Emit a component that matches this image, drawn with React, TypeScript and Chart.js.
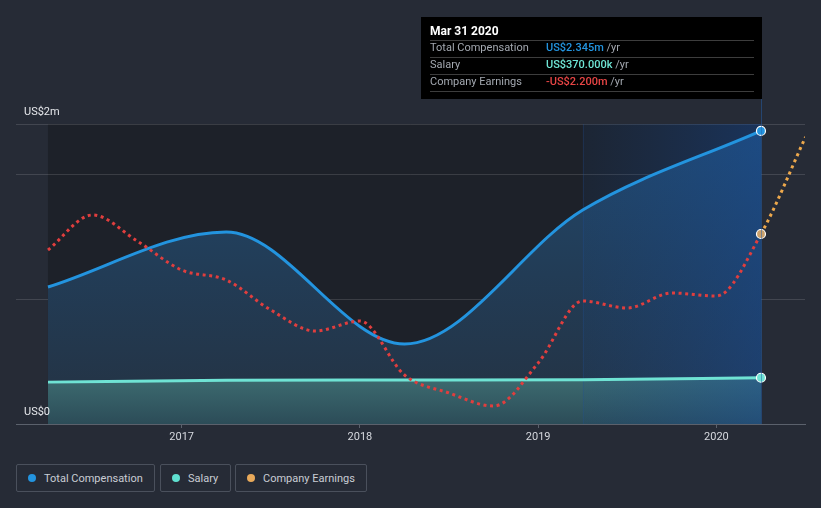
import React, { useEffect, useRef } from 'react';
import { Chart, registerables } from 'chart.js';

Chart.register(...registerables);

// ---- data ----
const compYears = [2016.25, 2017.25, 2018.25, 2019.25, 2020.25];
const totalComp = [1.096, 1.536, 0.64, 1.712, 2.345]; // US$ m
const salary = [0.335, 0.35, 0.352, 0.355, 0.37]; // US$ m
const earnYears = [
  2016.25, 2016.5, 2016.75, 2017.0, 2017.25, 2017.5, 2017.75, 2018.0, 2018.25,
  2018.5, 2018.75, 2019.0, 2019.25, 2019.5, 2019.75, 2020.0, 2020.25, 2020.5,
];
const earnings = [
  -2.52, -1.82, -2.34, -2.92, -3.12, -3.72, -4.14, -3.94, -5.02,
  -5.38, -5.64, -4.78, -3.54, -3.68, -3.38, -3.44, -2.2, -0.26,
]; // US$ m
const forecastFrom = 2020.25;
const xTickYears = [2017, 2018, 2019, 2020];
const yGridValues = [0, 1, 2, 2.4];
const yLabels = [
  { value: 2.4, text: 'US$2m' },
  { value: 0, text: 'US$0' },
];
const tooltipTitle = 'Mar 31 2020';
const seriesNames = ['Total Compensation', 'Salary', 'Company Earnings'];
const seriesColors = ['#2394df', '#5fe0d0', '#e8a95a'];

const FONT = 'Roboto, "Noto Sans", sans-serif';

function fmtMoney(v: number): string {
  const neg = v < 0;
  const a = Math.abs(v);
  const s = a >= 1 ? `US$${a.toFixed(3)}m` : `US$${(a * 1000).toFixed(3)}k`;
  return (neg ? '-' : '') + s;
}

const overlayPlugin = {
  id: 'overlay',
  beforeDraw(chart: any) {
    const { ctx, chartArea: a, scales } = chart;
    const x0 = scales.x.getPixelForValue(compYears[0]);
    const x1 = scales.x.getPixelForValue(compYears[compYears.length - 1]);
    ctx.save();
    ctx.fillStyle = '#1d2129';
    ctx.fillRect(x0, a.top, x1 - x0, a.bottom - a.top);
    ctx.restore();
  },
  beforeDatasetsDraw(chart: any) {
    const { ctx, chartArea: a, scales } = chart;
    const x0 = scales.x.getPixelForValue(compYears[compYears.length - 2]);
    const x1 = scales.x.getPixelForValue(compYears[compYears.length - 1]);
    ctx.save();
    const g = ctx.createLinearGradient(x0, 0, x1, 0);
    g.addColorStop(0, 'rgba(20,75,150,0.10)');
    g.addColorStop(1, 'rgba(20,80,170,0.38)');
    ctx.fillStyle = g;
    ctx.fillRect(x0, a.top, x1 - x0, a.bottom - a.top);
    ctx.strokeStyle = 'rgba(30,80,150,0.25)';
    ctx.lineWidth = 1;
    ctx.beginPath();
    ctx.moveTo(Math.round(x0) + 0.5, a.top);
    ctx.lineTo(Math.round(x0) + 0.5, a.bottom);
    ctx.stroke();
    ctx.restore();
  },
  afterDraw(chart: any) {
    const { ctx, chartArea: a, scales } = chart;
    const xr = scales.x.getPixelForValue(compYears[compYears.length - 1]);
    ctx.save();
    // vertical marker line
    ctx.strokeStyle = 'rgba(35,95,170,0.5)';
    ctx.lineWidth = 1;
    ctx.beginPath();
    ctx.moveTo(Math.round(xr) + 0.5, 99);
    ctx.lineTo(Math.round(xr) + 0.5, a.bottom);
    ctx.stroke();

    // y labels
    ctx.fillStyle = '#e6e8ec';
    ctx.font = `11px ${FONT}`;
    ctx.textBaseline = 'middle';
    ctx.textAlign = 'left';
    for (const l of yLabels) {
      const y = scales.y.getPixelForValue(l.value);
      ctx.fillText(l.text, 24, y - 12);
    }

    // tooltip box
    const bx = 421;
    const bw = Math.round(xr) + 1 - bx;
    ctx.fillStyle = '#000000';
    ctx.fillRect(bx, 17, bw, 82);
    ctx.fillStyle = '#ffffff';
    ctx.font = `bold 12px ${FONT}`;
    ctx.fillText(tooltipTitle, 430, 31.5);
    const rows = [
      { name: seriesNames[0], value: fmtMoney(totalComp[totalComp.length - 1]), color: '#2394df' },
      { name: seriesNames[1], value: fmtMoney(salary[salary.length - 1]), color: '#6fe6d6' },
      { name: 'Company Earnings', value: fmtMoney(earnings[earnYears.indexOf(forecastFrom)]), color: '#e84545' },
    ];
    ctx.strokeStyle = '#3d3d3d';
    ctx.lineWidth = 1;
    for (let i = 0; i < 4; i++) {
      const y = 40.5 + i * 17;
      ctx.beginPath();
      ctx.moveTo(430, y);
      ctx.lineTo(bx + bw - 8, y);
      ctx.stroke();
    }
    rows.forEach((r, i) => {
      const y = 48.5 + i * 17;
      ctx.font = `11px ${FONT}`;
      ctx.fillStyle = '#a3a8b0';
      ctx.fillText(r.name, 430, y);
      ctx.font = `500 11px ${FONT}`;
      ctx.fillStyle = r.color;
      ctx.fillText(r.value, 546, y);
      const w = ctx.measureText(r.value).width;
      ctx.font = `11px ${FONT}`;
      ctx.fillStyle = '#a3a8b0';
      ctx.fillText(' /yr', 546 + w, y);
    });
    ctx.restore();
  },
};

export default function App() {
  const ref = useRef<HTMLCanvasElement | null>(null);

  useEffect(() => {
    if (!ref.current) return;
    const lastComp = compYears.length - 1;
    const lastEarnIdx = earnYears.indexOf(forecastFrom);

    const compFill = (c: any) => {
      const chart = c.chart;
      const area = chart.chartArea;
      if (!area) return 'rgba(35,60,85,1)';
      const g = chart.ctx.createLinearGradient(0, area.top, 0, area.bottom);
      g.addColorStop(0, 'rgba(34,72,108,1)');
      g.addColorStop(0.5, 'rgba(34,60,86,1)');
      g.addColorStop(1, 'rgba(36,50,66,1)');
      return g;
    };
    const salFill = (c: any) => {
      const chart = c.chart;
      const area = chart.chartArea;
      if (!area) return 'rgba(55,100,105,1)';
      const top = chart.scales.y.getPixelForValue(0.4);
      const g = chart.ctx.createLinearGradient(0, top, 0, area.bottom);
      g.addColorStop(0, 'rgba(62,110,114,1)');
      g.addColorStop(1, 'rgba(44,76,88,1)');
      return g;
    };

    const chart = new Chart(ref.current, {
      type: 'line',
      data: {
        datasets: [
          {
            label: seriesNames[2],
            data: earnYears.map((x, i) => ({ x, y: earnings[i] })),
            yAxisID: 'y2',
            borderColor: '#e03e3e',
            borderWidth: 3,
            borderDash: [3, 3.6],
            fill: false,
            cubicInterpolationMode: 'monotone',
            segment: {
              borderColor: (s: any) => (s.p0.parsed.x >= forecastFrom ? '#eea94c' : '#e03e3e'),
            },
            pointRadius: (c: any) => (c.dataIndex === lastEarnIdx ? 4.5 : 0),
            pointBackgroundColor: '#caa06a',
            pointBorderColor: '#ffffff',
            pointBorderWidth: 1.2,
          },
          {
            label: seriesNames[1],
            data: compYears.map((x, i) => ({ x, y: salary[i] })),
            yAxisID: 'y',
            borderColor: '#6fe3d4',
            borderWidth: 3,
            fill: 'origin',
            backgroundColor: salFill,
            cubicInterpolationMode: 'monotone',
            pointRadius: (c: any) => (c.dataIndex === lastComp ? 4.5 : 0),
            pointBackgroundColor: '#6fe3d4',
            pointBorderColor: '#ffffff',
            pointBorderWidth: 1.2,
          },
          {
            label: seriesNames[0],
            data: compYears.map((x, i) => ({ x, y: totalComp[i] })),
            yAxisID: 'y',
            borderColor: '#2394df',
            borderWidth: 3,
            fill: 'origin',
            backgroundColor: compFill,
            cubicInterpolationMode: 'monotone',
            pointRadius: (c: any) => (c.dataIndex === lastComp ? 4.5 : 0),
            pointBackgroundColor: '#2394df',
            pointBorderColor: '#ffffff',
            pointBorderWidth: 1.2,
          },
        ],
      },
      options: {
        responsive: false,
        animation: false,
        events: [],
        layout: { padding: { left: 16, right: 16, top: 124, bottom: 0 } },
        plugins: {
          legend: { display: false },
          tooltip: { enabled: false },
          filler: { drawTime: 'beforeDatasetsDraw' },
        } as any,
        scales: {
          x: {
            type: 'linear',
            min: 2016.0705,
            max: 2020.497,
            afterBuildTicks: (s: any) => {
              s.ticks = xTickYears.map((v) => ({ value: v }));
            },
            afterFit: (s: any) => {
              s.height = 26;
            },
            ticks: {
              color: '#d5d8de',
              font: { family: FONT, size: 11 },
              padding: 3,
              maxRotation: 0,
              autoSkip: false,
              callback: (v: any) => String(v),
            },
            grid: { drawOnChartArea: false, drawTicks: true, tickLength: 4, color: '#5b616c' },
            border: { color: '#5b616c', width: 1 },
          },
          y: {
            min: 0,
            max: 2.4,
            afterBuildTicks: (s: any) => {
              s.ticks = yGridValues.map((v) => ({ value: v }));
            },
            afterFit: (s: any) => {
              s.width = 0;
            },
            ticks: { display: false },
            grid: { color: 'rgba(255,255,255,0.13)', drawTicks: false },
            border: { display: false },
          },
          y2: { display: false, min: -6, max: 0 },
        },
      } as any,
      plugins: [overlayPlugin],
    });
    return () => chart.destroy();
  }, []);

  const legendBoxes = [
    { left: 16, width: 139 },
    { left: 160, width: 71 },
    { left: 235, width: 132 },
  ];

  return (
    <div
      style={{
        position: 'fixed',
        left: 0,
        top: 0,
        width: 821,
        height: 508,
        background: '#262b36',
        overflow: 'hidden',
        fontFamily: FONT,
      }}
    >
      <canvas ref={ref} width={821} height={450} style={{ position: 'absolute', left: 0, top: 0, width: 821, height: 450 }} />
      {seriesNames.map((name, i) => (
        <div
          key={name}
          style={{
            position: 'absolute',
            left: legendBoxes[i].left,
            top: 464,
            width: legendBoxes[i].width,
            height: 28,
            boxSizing: 'border-box',
            border: '1px solid #4a505c',
            borderRadius: 2,
            display: 'flex',
            alignItems: 'center',
            paddingLeft: 11,
            color: '#c9cdd4',
            fontSize: 11,
            whiteSpace: 'nowrap',
          }}
        >
          <span
            style={{
              display: 'inline-block',
              width: 8,
              height: 8,
              borderRadius: '50%',
              background: seriesColors[i],
              marginRight: 8,
            }}
          />
          <span>{name}</span>
        </div>
      ))}
    </div>
  );
}
